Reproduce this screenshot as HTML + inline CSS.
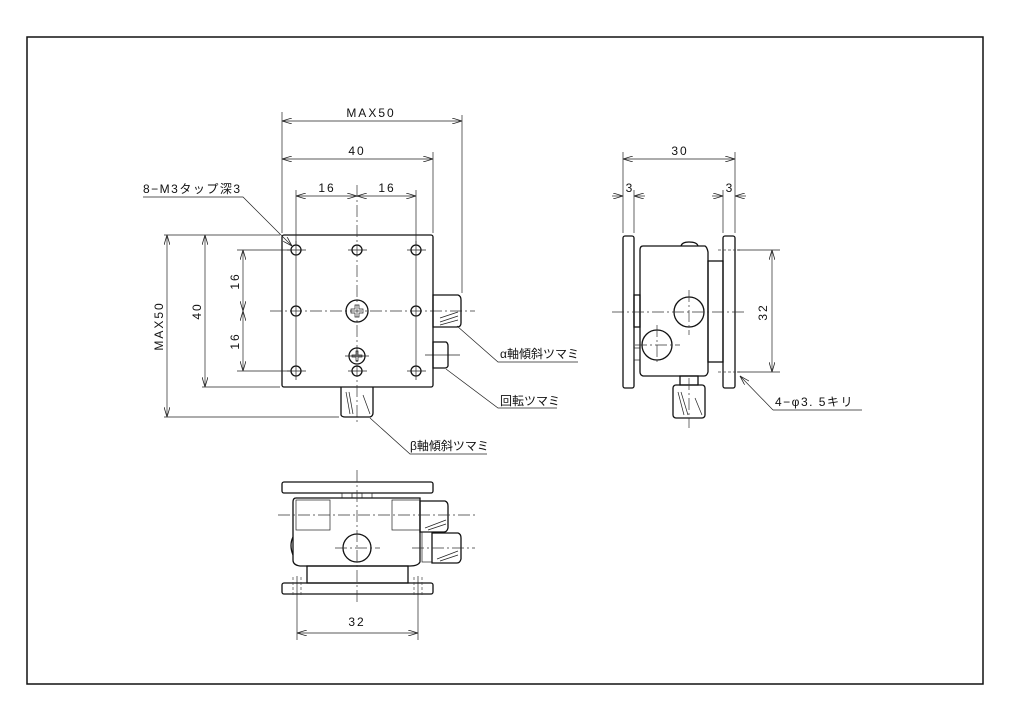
<!DOCTYPE html>
<html><head><meta charset="utf-8"><style>
html,body{margin:0;padding:0;background:#fff}
svg{display:block}
text{font-family:"Liberation Sans","Noto Sans CJK JP",sans-serif;font-size:12px;fill:#111}
.o{fill:none;stroke:#111;stroke-width:1.3}
.t{fill:none;stroke:#222;stroke-width:0.7}
.c{fill:none;stroke:#333;stroke-width:0.7;stroke-dasharray:12 3 2 3}
.h{fill:none;stroke:#444;stroke-width:0.7;stroke-dasharray:3 2}
</style></head><body>
<svg width="1024" height="724" viewBox="0 0 1024 724" xmlns="http://www.w3.org/2000/svg">
<defs>
<marker id="a" viewBox="0 0 10 6" refX="10" refY="3" markerWidth="10" markerHeight="6" orient="auto-start-reverse" markerUnits="userSpaceOnUse"><path d="M0,0 L10,3 L0,6" fill="none" stroke="#222" stroke-width="0.8"/></marker>
</defs>
<rect x="27" y="37" width="956" height="647" fill="none" stroke="#111" stroke-width="1.5"/>

<!-- TOP VIEW -->
<rect x="282" y="235" width="151" height="152" rx="2" class="o"/>
<line x1="270" y1="311" x2="475" y2="311" class="c"/>
<line x1="357" y1="185" x2="357" y2="425" class="c"/>
<g class="o" stroke-width="1.1">
<circle cx="296" cy="250" r="5"/><circle cx="357" cy="250" r="5"/><circle cx="416" cy="250" r="5"/>
<circle cx="296" cy="311" r="5"/><circle cx="416" cy="311" r="5"/>
<circle cx="296" cy="371" r="5"/><circle cx="357" cy="371" r="5"/><circle cx="416" cy="371" r="5"/>
<circle cx="357" cy="311" r="11"/><circle cx="357" cy="356" r="8"/>
</g>
<g class="t">
<line x1="287" y1="250" x2="306" y2="250"/><line x1="348" y1="250" x2="367" y2="250"/><line x1="407" y1="250" x2="426" y2="250"/>
<line x1="287" y1="371" x2="306" y2="371"/><line x1="348" y1="371" x2="367" y2="371"/><line x1="407" y1="371" x2="426" y2="371"/>
<line x1="296" y1="241" x2="296" y2="380"/><line x1="416" y1="241" x2="416" y2="380"/>
<line x1="345" y1="356" x2="369" y2="356"/>
<line x1="425" y1="355" x2="460" y2="355"/>
</g>
<path d="M351,309 L355,309 L355,305 L359,305 L359,309 L363,309 L363,313 L359,313 L359,317 L355,317 L355,313 L351,313Z" class="t"/>
<path d="M352,355 L356,355 L356,351 L358,351 L358,355 L362,355 L362,357 L358,357 L358,361 L356,361 L356,357 L352,357Z" class="t"/>
<!-- knobs -->
<path d="M433,295 L458,295 Q461,296 461,300 L461,323 Q461,327 457,327 L433,327Z" class="o"/>
<path d="M433,342 L446,342 Q448,343 448,346 L448,366 Q447,368 445,368 L433,368Z" class="o"/>
<path d="M341,387 L341,415 Q342,417 345,417 L370,417 Q373,416 373,413 L373,387" class="o"/>
<g class="t" stroke-width="0.5"><line x1="440" y1="318" x2="458" y2="312"/><line x1="440" y1="322" x2="458" y2="316"/><line x1="440" y1="325" x2="458" y2="320"/><line x1="346" y1="392" x2="350" y2="414"/><line x1="349" y1="392" x2="353" y2="414"/><line x1="363" y1="395" x2="370" y2="414"/></g>
<!-- top view dims -->
<g class="t">
<line x1="282" y1="112" x2="282" y2="233"/><line x1="462" y1="115" x2="462" y2="293"/>
<line x1="433" y1="152" x2="433" y2="233"/>
<line x1="296" y1="190" x2="296" y2="245"/><line x1="416" y1="190" x2="416" y2="245"/>
<line x1="282" y1="121" x2="462" y2="121" marker-start="url(#a)" marker-end="url(#a)"/>
<line x1="282" y1="159" x2="433" y2="159" marker-start="url(#a)" marker-end="url(#a)"/>
<line x1="296" y1="196" x2="357" y2="196" marker-start="url(#a)" marker-end="url(#a)"/>
<line x1="357" y1="196" x2="416" y2="196" marker-start="url(#a)" marker-end="url(#a)"/>
<line x1="164" y1="235" x2="280" y2="235"/><line x1="164" y1="417" x2="339" y2="417"/>
<line x1="202" y1="387" x2="280" y2="387"/>
<line x1="237" y1="250" x2="290" y2="250"/><line x1="237" y1="371" x2="290" y2="371"/>
<line x1="167" y1="235" x2="167" y2="417" marker-start="url(#a)" marker-end="url(#a)"/>
<line x1="205" y1="235" x2="205" y2="387" marker-start="url(#a)" marker-end="url(#a)"/>
<line x1="243" y1="250" x2="243" y2="311" marker-start="url(#a)" marker-end="url(#a)"/>
<line x1="243" y1="311" x2="243" y2="371" marker-start="url(#a)" marker-end="url(#a)"/>
<polyline points="143,197 243,197 292,246" marker-end="url(#a)"/>
<polyline points="457,326 498,362 578,362"/>
<polyline points="446,369 498,408 557,408"/>
<polyline points="370,418 410,454 487,454"/>
</g>
<text x="371" y="117" text-anchor="middle" letter-spacing="2">MAX50</text>
<text x="357" y="155" text-anchor="middle" letter-spacing="2">40</text>
<text x="327" y="192" text-anchor="middle" letter-spacing="2">16</text>
<text x="387" y="192" text-anchor="middle" letter-spacing="2">16</text>
<text transform="translate(163,326) rotate(-90)" text-anchor="middle" letter-spacing="2">MAX50</text>
<text transform="translate(201,311) rotate(-90)" text-anchor="middle" letter-spacing="2">40</text>
<text transform="translate(239,281) rotate(-90)" text-anchor="middle" letter-spacing="2">16</text>
<text transform="translate(239,341) rotate(-90)" text-anchor="middle" letter-spacing="2">16</text>
<text x="143" y="193" letter-spacing="1.5">8−M3タップ深3</text>
<text x="500" y="358" font-size="11">α軸傾斜ツマミ</text>
<text x="500" y="405" font-size="11">回転ツマミ</text>
<text x="410" y="450" font-size="11">β軸傾斜ツマミ</text>

<!-- SIDE VIEW -->
<rect x="623" y="236" width="11" height="152" rx="2" class="o"/>
<rect x="723" y="236" width="12" height="152" rx="2" class="o"/>
<path d="M643,246 L705,246 Q707,247 708,252 L708,372 Q707,376 704,376 L643,376 Q640,375 640,372 L640,250 Q640,246 643,246Z" class="o"/>
<rect x="708" y="261" width="15" height="101" class="o"/>
<path d="M681,246 Q682,242 689,242 Q697,242 698,246" class="o"/>
<rect x="634" y="295" width="6" height="32" class="o"/>
<rect x="634" y="348" width="6" height="12" class="t"/>
<circle cx="689" cy="312" r="15" class="o"/>
<circle cx="657" cy="345" r="15" class="o"/>
<rect x="680" y="376" width="18" height="9" class="o"/>
<rect x="673" y="385" width="32" height="33" rx="3" class="o"/>
<g class="t" stroke-width="0.5"><line x1="678" y1="392" x2="684" y2="415"/><line x1="681" y1="392" x2="688" y2="415"/><line x1="695" y1="398" x2="702" y2="415"/></g>
<line x1="612" y1="312" x2="745" y2="312" class="c"/>
<line x1="689" y1="290" x2="689" y2="335" class="c"/>
<line x1="657" y1="325" x2="657" y2="365" class="c"/>
<line x1="635" y1="345" x2="680" y2="345" class="c"/>
<line x1="689" y1="378" x2="689" y2="428" class="c"/>
<line x1="718" y1="250" x2="740" y2="250" class="h"/><line x1="718" y1="372" x2="740" y2="372" class="h"/>
<g class="t">
<line x1="623" y1="152" x2="623" y2="233"/><line x1="735" y1="152" x2="735" y2="233"/>
<line x1="634" y1="190" x2="634" y2="233"/><line x1="723" y1="190" x2="723" y2="233"/>
<line x1="623" y1="159" x2="735" y2="159" marker-start="url(#a)" marker-end="url(#a)"/>
<line x1="612" y1="196" x2="623" y2="196" marker-end="url(#a)"/><line x1="645" y1="196" x2="634" y2="196" marker-end="url(#a)"/>
<line x1="712" y1="196" x2="723" y2="196" marker-end="url(#a)"/><line x1="746" y1="196" x2="735" y2="196" marker-end="url(#a)"/>
<line x1="737" y1="250" x2="780" y2="250"/><line x1="737" y1="372" x2="780" y2="372"/>
<line x1="772" y1="250" x2="772" y2="372" marker-start="url(#a)" marker-end="url(#a)"/>
<polyline points="773,410 740,376" marker-end="url(#a)"/>
<line x1="773" y1="410" x2="862" y2="410"/>
</g>
<text x="680" y="155" text-anchor="middle" letter-spacing="2">30</text>
<text x="629" y="192" text-anchor="middle">3</text>
<text x="729" y="192" text-anchor="middle">3</text>
<text transform="translate(767,312) rotate(-90)" text-anchor="middle" letter-spacing="2">32</text>
<text x="775" y="406" letter-spacing="1.5">4−φ3. 5キリ</text>

<!-- BOTTOM VIEW -->
<rect x="282" y="482" width="151" height="11" rx="2" class="o"/>
<rect x="342" y="493" width="10" height="5" class="t"/><rect x="362" y="493" width="10" height="5" class="t"/>
<path d="M296,498 L420,498 L420,562 Q418,566 410,566 L300,566 Q293,565 293,560 L293,502 Q293,498 296,498Z" class="o"/>
<path d="M293,537 Q289,545 293,555" class="o"/>
<rect x="296" y="500" width="34" height="30" class="t"/>
<rect x="392" y="500" width="28" height="30" class="t"/>
<path d="M420,501 L445,501 Q448,502 448,506 L448,528 Q447,532 444,532 L420,532Z" class="o"/>
<rect x="422" y="532" width="10" height="30" class="t"/>
<path d="M432,533 L458,533 Q461,534 461,538 L461,559 Q460,563 457,563 L432,563Z" class="o"/>
<g class="t" stroke-width="0.5"><line x1="425" y1="528" x2="446" y2="520"/><line x1="428" y1="530" x2="446" y2="524"/><line x1="437" y1="559" x2="458" y2="551"/><line x1="440" y1="561" x2="458" y2="555"/></g>
<rect x="307" y="566" width="101" height="17" class="o"/>
<rect x="282" y="583" width="151" height="11" rx="2" class="o"/>
<circle cx="357" cy="548" r="14" class="o"/>
<line x1="357" y1="470" x2="357" y2="605" class="c"/>
<line x1="278" y1="515" x2="475" y2="515" class="c"/>
<line x1="335" y1="548" x2="380" y2="548" class="c"/>
<line x1="412" y1="548" x2="475" y2="548" class="c"/>
<line x1="293" y1="577" x2="293" y2="596" class="h"/><line x1="301" y1="577" x2="301" y2="596" class="h"/>
<line x1="414" y1="577" x2="414" y2="596" class="h"/><line x1="422" y1="577" x2="422" y2="596" class="h"/>
<g class="t">
<line x1="297" y1="576" x2="297" y2="640"/><line x1="418" y1="576" x2="418" y2="640"/>
<line x1="297" y1="633" x2="418" y2="633" marker-start="url(#a)" marker-end="url(#a)"/>
</g>
<text x="357" y="626" text-anchor="middle" letter-spacing="2">32</text>
</svg>
</body></html>
